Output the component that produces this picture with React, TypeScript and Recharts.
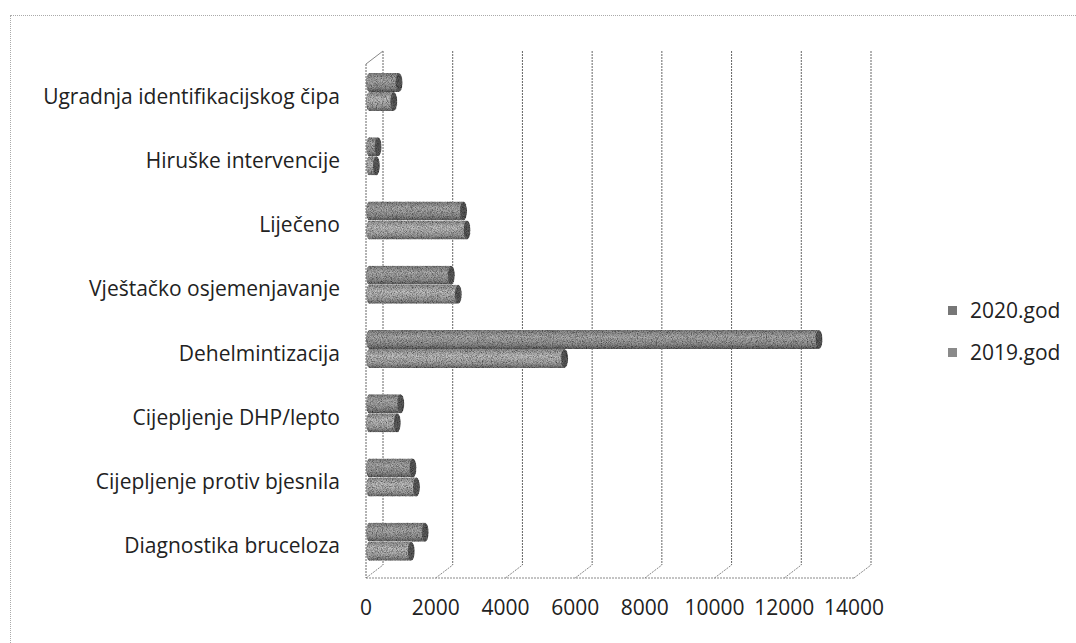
import React from 'react'
import { BarChart, Bar, XAxis, YAxis, CartesianGrid, Legend } from 'recharts'

// categories top to bottom
const categories = [
  'Ugradnja identifikacijskog čipa',
  'Hiruške intervencije',
  'Liječeno',
  'Vještačko osjemenjavanje',
  'Dehelmintizacija',
  'Cijepljenje DHP/lepto',
  'Cijepljenje protiv bjesnila',
  'Diagnostika bruceloza',
]
const values2020 = [950, 350, 2800, 2450, 13000, 1000, 1350, 1700]
const values2019 = [800, 300, 2900, 2650, 5700, 900, 1450, 1300]
const xTicks = [0, 2000, 4000, 6000, 8000, 10000, 12000, 14000]

const data = categories.map((name, i) => ({
  name,
  y2020: values2020[i],
  y2019: values2019[i],
}))

const FONT = '"Open Sans", Lato, sans-serif'
// 3D depth offset of the back wall
const DX = 17
const DY = -13

const Cylinder = (gradId: string) => (props: any) => {
  const { x, width, height } = props
  const y = props.y - 4
  if (!width || width <= 0) return null
  return (
    <g filter="url(#grain)">
      <ellipse cx={x + 3} cy={y + height / 2} rx={3} ry={height / 2} fill={`url(#${gradId})`} />
      <rect x={x + 3} y={y} width={Math.max(width - 3, 0)} height={height} fill={`url(#${gradId})`} />
      <ellipse cx={x + width} cy={y + height / 2} rx={3.5} ry={height / 2} fill="#5e5e5e" />
    </g>
  )
}

const gridLine = (props: any) => {
  const { x1, y1, x2, y2, index } = props
  return (
    <g key={`vg-${index}-${x1}`}>
      <line x1={x1 + DX} y1={y1 + DY} x2={x2 + DX} y2={y2 + DY} stroke="#666" strokeWidth={1} strokeDasharray="2 1" />
      <line x1={x2} y1={y2} x2={x2 + DX} y2={y2 + DY} stroke="#888" strokeWidth={1} strokeDasharray="2 1" />
      {index === 0 && (
        <line x1={x1} y1={y1} x2={x1 + DX} y2={y1 + DY} stroke="#888" strokeWidth={1} />
      )}
    </g>
  )
}

const LegendBox = () => (
  <div style={{ fontFamily: FONT, fontSize: 21, color: '#222' }}>
    {[
      { label: '2020.god', color: '#777' },
      { label: '2019.god', color: '#8a8a8a' },
    ].map((it) => (
      <div key={it.label} style={{ display: 'flex', alignItems: 'center', height: 42 }}>
        <span style={{ width: 9, height: 9, background: it.color, marginRight: 13, display: 'inline-block' }} />
        <span>{it.label}</span>
      </div>
    ))}
  </div>
)

export default function App() {
  return (
    <div style={{ position: 'absolute', left: 0, top: 0, width: 1076, height: 643, background: '#fff' }}>
      <div
        style={{
          position: 'absolute',
          left: 10,
          top: 15,
          right: 0,
          bottom: 0,
          borderTop: '1px dotted #aaa',
          borderLeft: '1px dotted #aaa',
        }}
      />
      <BarChart
        width={1076}
        height={643}
        data={data}
        layout="vertical"
        margin={{ top: 64, right: 222, bottom: 0, left: 0 }}
        barSize={19}
        barGap={0}
        style={{ position: 'absolute', left: 0, top: 0 }}
      >
        <defs>
          <linearGradient id="g2020" x1="0" y1="0" x2="0" y2="1">
            <stop offset="0%" stopColor="#868686" />
            <stop offset="35%" stopColor="#b2b2b2" />
            <stop offset="75%" stopColor="#969696" />
            <stop offset="100%" stopColor="#626262" />
          </linearGradient>
          <linearGradient id="g2019" x1="0" y1="0" x2="0" y2="1">
            <stop offset="0%" stopColor="#969696" />
            <stop offset="35%" stopColor="#c6c6c6" />
            <stop offset="75%" stopColor="#a8a8a8" />
            <stop offset="100%" stopColor="#707070" />
          </linearGradient>
          <filter id="grain" x="0" y="0" width="100%" height="100%">
            <feTurbulence type="fractalNoise" baseFrequency="1.2" numOctaves={1} seed={3} result="noise" />
            <feColorMatrix
              in="noise"
              type="matrix"
              values="1.8 0 0 0 -0.2  1.8 0 0 0 -0.2  1.8 0 0 0 -0.2  0 0 0 0 1"
              result="gray"
            />
            <feBlend in="SourceGraphic" in2="gray" mode="multiply" result="mix" />
            <feComposite in="mix" in2="SourceGraphic" operator="in" />
          </filter>
        </defs>
        <CartesianGrid horizontal={false} vertical={gridLine} />
        <XAxis
          type="number"
          domain={[0, 14000]}
          ticks={xTicks}
          interval={0}
          height={65}
          axisLine={{ stroke: '#888', strokeDasharray: '2 1' }}
          tickLine={false}
          tickMargin={16}
          tick={{ fontFamily: FONT, fontSize: 21, fill: '#222' }}
        />
        <YAxis
          type="category"
          dataKey="name"
          width={366}
          axisLine={{ stroke: '#666', strokeDasharray: '2 1' }}
          tickLine={false}
          tickMargin={20}
          tick={{ fontFamily: FONT, fontSize: 21, fill: '#222' }}
        />
        <Legend
          content={<LegendBox />}
          layout="vertical"
          align="center"
          verticalAlign="middle"
          wrapperStyle={{ position: 'absolute', left: 948, top: 289, width: 128 }}
        />
        <Bar dataKey="y2020" name="2020.god" fill="#777" shape={Cylinder('g2020')} isAnimationActive={false} />
        <Bar dataKey="y2019" name="2019.god" fill="#8a8a8a" shape={Cylinder('g2019')} isAnimationActive={false} />
      </BarChart>
    </div>
  )
}
